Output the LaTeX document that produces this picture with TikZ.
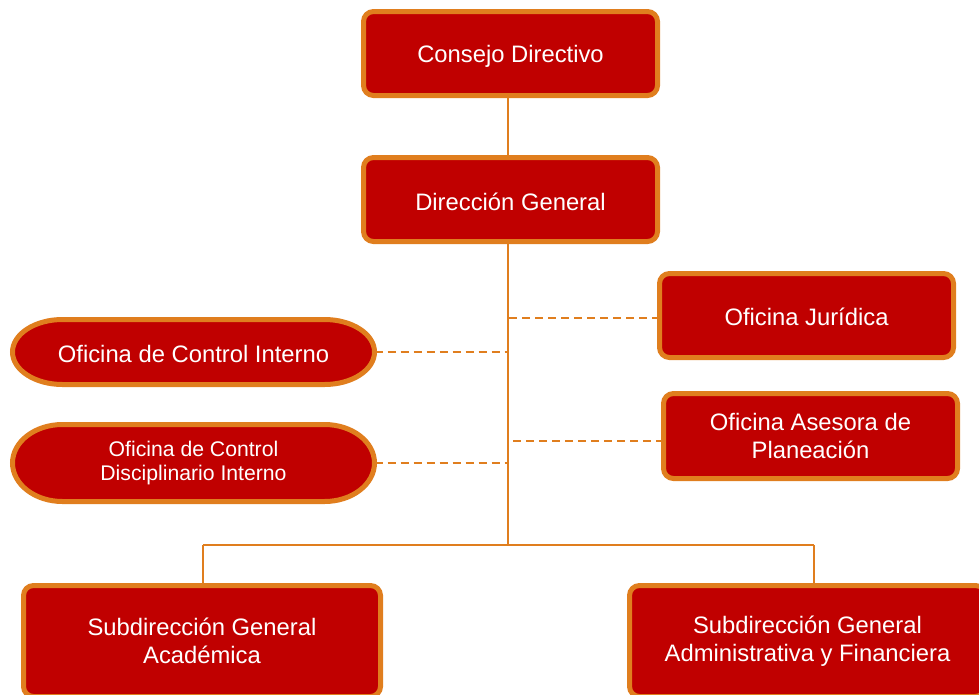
\documentclass[tikz,border=0pt]{standalone}
\usepackage{fontspec}
\setmainfont{Liberation Sans}
\usetikzlibrary{backgrounds,calc}
\definecolor{boxred}{HTML}{C00000}
\definecolor{edgeor}{HTML}{E07E1E}
\newcommand{\lowertext}[2]{\raisebox{-#1}[\height][\depth]{#2}}
\begin{document}
\begin{tikzpicture}[x=1pt,y=-1pt,
  unit/.style={draw=edgeor,line width=5pt,fill=boxred,rounded corners=10pt,text=white,align=center,
    font=\fontsize{23.8}{28}\selectfont,inner sep=0pt,outer sep=0pt,minimum width=294pt,minimum height=84pt},
  ovaltext/.style={text=white,align=center,inner sep=0pt,outer sep=0pt,minimum width=362pt,
    font=\fontsize{23.8}{28}\selectfont},
  ovalshape/.style={draw=edgeor,line width=5pt,fill=boxred},
  link/.style={draw=edgeor,line width=2pt},
  dlink/.style={link,dash pattern=on 8pt off 5pt}]
\useasboundingbox (0,0) rectangle (979,694);
\clip (0,0) rectangle (979,694);

\node[unit] (cd) at (510.5,53.5) {\lowertext{3pt}{Consejo Directivo}};
\node[unit] (dg) at (510.5,199.5) {\lowertext{2pt}{Dirección General}};
\node[unit] (oj) at (806.5,315.5) {\lowertext{1.5pt}{Oficina Jurídica}};
\node[unit,minimum height=85pt] (oap) at (810.5,436) {Oficina Asesora de\\Planeación};
\node[unit,minimum width=357pt,minimum height=111pt] (sga) at (202,641) {Subdirección General\\Académica};
\node[unit,minimum width=356pt,minimum height=111pt] (sgaf) at (807.5,641) {Subdirección General\\Administrativa y Financiera};

\node[ovaltext,minimum height=65pt] (oci) at (193.5,352) {\lowertext{1.5pt}{Oficina de Control Interno}};
\node[ovaltext,minimum height=77pt,font=\fontsize{21.2}{24}\selectfont] (ocd) at (193.5,463) {Oficina de Control\\Disciplinario Interno};

\begin{scope}[on background layer]
  \path[ovalshape] ([xshift=50pt]oci.north west) -- ([xshift=-50pt]oci.north east)
    .. controls ([xshift=-22.4pt]oci.north east) and ([yshift=17.95pt]oci.east) .. (oci.east)
    .. controls ([yshift=-17.95pt]oci.east) and ([xshift=-22.4pt]oci.south east) .. ([xshift=-50pt]oci.south east)
    -- ([xshift=50pt]oci.south west)
    .. controls ([xshift=22.4pt]oci.south west) and ([yshift=-17.95pt]oci.west) .. (oci.west)
    .. controls ([yshift=17.95pt]oci.west) and ([xshift=22.4pt]oci.north west) .. ([xshift=50pt]oci.north west) -- cycle;
  \path[ovalshape] ([xshift=50pt]ocd.north west) -- ([xshift=-50pt]ocd.north east)
    .. controls ([xshift=-22.4pt]ocd.north east) and ([yshift=21.3pt]ocd.east) .. (ocd.east)
    .. controls ([yshift=-21.3pt]ocd.east) and ([xshift=-22.4pt]ocd.south east) .. ([xshift=-50pt]ocd.south east)
    -- ([xshift=50pt]ocd.south west)
    .. controls ([xshift=22.4pt]ocd.south west) and ([yshift=-21.3pt]ocd.west) .. (ocd.west)
    .. controls ([yshift=21.3pt]ocd.west) and ([xshift=22.4pt]ocd.north west) .. ([xshift=50pt]ocd.north west) -- cycle;
\end{scope}

\coordinate (top) at (507.5,98);
\coordinate (spine) at (508,244);
\coordinate (bus) at (508,545);
\coordinate (busl) at (203,545);
\coordinate (busr) at (813.5,545);

\draw[link] (top) -- (top |- dg.north);
\draw[link] (spine) -- (bus);
\draw[link] (busl) -- (busr);
\draw[link] (busl) -- (busl |- sga.north);
\draw[link] (busr) -- (busr |- sgaf.north);

\draw[dlink] ([yshift=-2.5pt]oj.west) -- ([yshift=-2.5pt]oj.west -| spine);
\draw[dlink] (oci.east) -- (oci.east -| spine);
\draw[dlink] ([yshift=-5pt]oap.west) -- ([yshift=-5pt]oap.west -| spine);
\draw[dlink] (ocd.east) -- (ocd.east -| spine);
\end{tikzpicture}
\end{document}
